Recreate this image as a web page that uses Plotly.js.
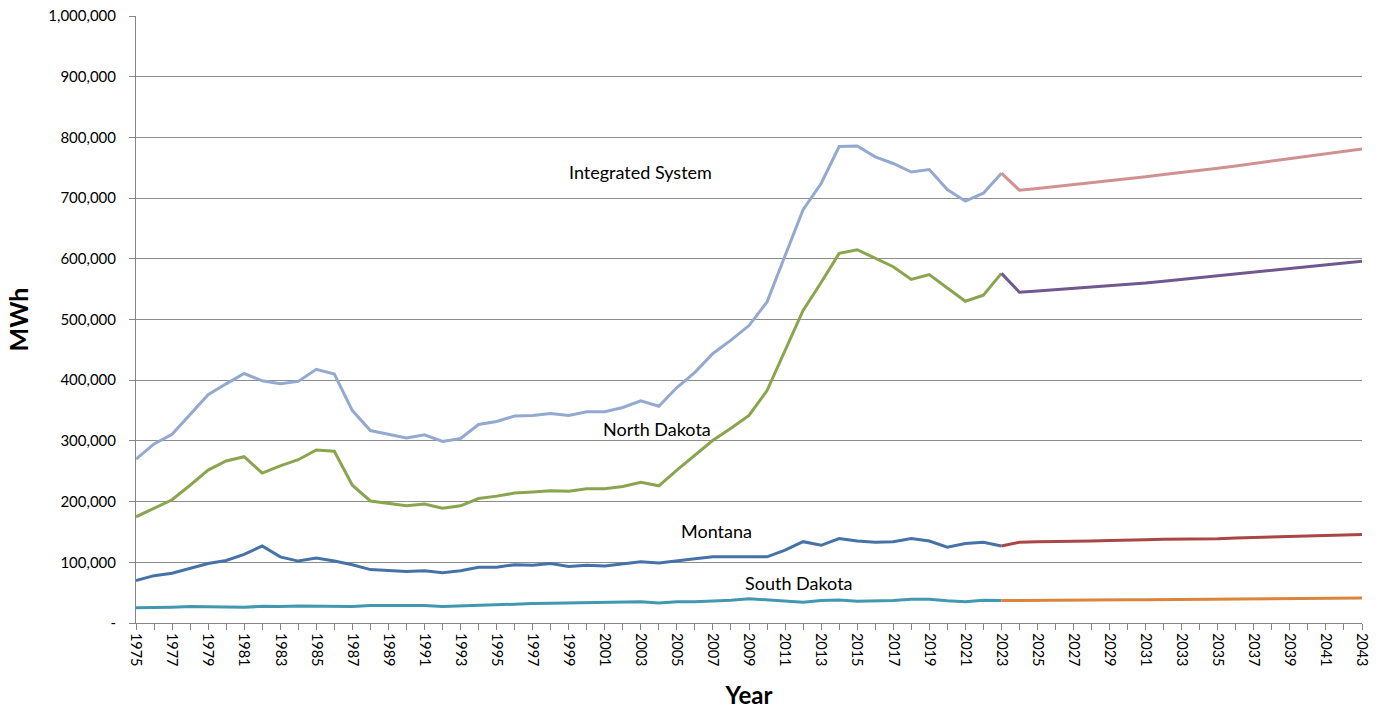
<!DOCTYPE html>
<html>
<head>
<meta charset="utf-8">
<script src="https://cdn.plot.ly/plotly-3.0.1.min.js"></script>
<style>html,body{margin:0;padding:0;background:#fff;}#chart{width:1382px;height:711px;}</style>
</head>
<body>
<div id="chart"></div>
<script>
// Historical years 1975-2023
const histYears = [1975,1976,1977,1978,1979,1980,1981,1982,1983,1984,1985,1986,1987,1988,1989,1990,1991,1992,1993,1994,1995,1996,1997,1998,1999,2000,2001,2002,2003,2004,2005,2006,2007,2008,2009,2010,2011,2012,2013,2014,2015,2016,2017,2018,2019,2020,2021,2022,2023];
// Forecast years 2023-2043
const fcstYears = [2023,2024,2025,2026,2027,2028,2029,2030,2031,2032,2033,2034,2035,2036,2037,2038,2039,2040,2041,2042,2043];

const integratedHist = [270000,295000,311000,344000,376000,394000,411000,399000,394000,398000,418000,410000,350000,317000,311000,305000,310000,299000,304000,327000,332000,341000,342000,345000,342000,348000,348000,355000,366000,357000,388000,413000,444000,466000,490000,529000,605000,681000,724000,785000,786000,768000,757000,743000,747000,714000,695000,708000,741000];
const integratedFcst = [741000,713000,716000,719000,722000,725000,729000,732000,735000,739000,742000,746000,749000,753000,757000,761000,765000,769000,773000,777000,781000];

const northDakotaHist = [175000,189000,203000,227000,252000,267000,274000,247000,259000,269000,285000,283000,227000,201000,197000,193000,196000,189000,193000,205000,209000,214000,216000,218000,217000,221000,221000,225000,232000,226000,252000,277000,301000,321000,342000,383000,450000,515000,561000,609000,615000,601000,587000,566000,574000,552000,530000,540000,576000];
const northDakotaFcst = [576000,545000,547000,549000,551000,554000,556000,558000,560000,563000,566000,568000,571000,574000,577000,580000,583000,586000,589000,592000,596000];

const montanaHist = [70000,78000,82000,90000,98000,103000,113000,127000,109000,102000,107000,102000,96000,88000,86000,85000,86000,83000,86000,92000,92000,96000,95000,98000,93000,95000,94000,97000,101000,99000,103000,106000,109000,109000,110000,109000,120000,134000,128000,139000,135000,133000,134000,139000,135000,125000,131000,133000,127000];
const montanaFcst = [127000,133000,134000,134000,135000,135000,136000,136000,137000,138000,138000,139000,139000,140000,141000,141000,142000,143000,144000,145000,146000];

const southDakotaHist = [25000,25000,26000,27000,27000,26000,26000,27500,27000,28000,27500,27000,27000,29000,29000,28000,29000,27000,28000,30000,31000,32000,32000,32600,33000,33000,34000,34000,35000,33000,35000,35000,36000,37500,40000,38000,36500,34000,37000,38000,36000,36000,37000,39000,39000,36500,35000,37500,37000];
const southDakotaFcst = [37000,37000,37200,37400,37600,37800,38000,38200,38400,38600,38800,39000,39200,39400,39600,39800,40000,40200,40400,40600,41000];

const yTickVals = [0,100000,200000,300000,400000,500000,600000,700000,800000,900000,1000000];
const yTickText = ['-','100,000','200,000','300,000','400,000','500,000','600,000','700,000','800,000','900,000','1,000,000'];

const seriesLabelText = ['Integrated System','North Dakota','Montana','South Dakota'];
const seriesLabelX = [2003.0, 2003.9, 2007.2, 2011.8];
const seriesLabelY = [743000, 320000, 151500, 66000];

const xTickVals = [];
const xTickText = [];
for (let yr = 1975; yr <= 2043; yr++) {
  xTickVals.push(yr);
  xTickText.push((yr - 1975) % 2 === 0 ? String(yr) : '');
}

function line(x, y, color) {
  return {x: x, y: y, type: 'scatter', mode: 'lines', line: {color: color, width: 3}, hoverinfo: 'skip', showlegend: false};
}

const traces = [
  line(histYears, southDakotaHist, '#4198AF'),
  line(fcstYears, southDakotaFcst, '#DB843D'),
  line(histYears, montanaHist, '#4572A7'),
  line(fcstYears, montanaFcst, '#AA4643'),
  line(histYears, northDakotaHist, '#89A54E'),
  line(fcstYears, northDakotaFcst, '#71588F'),
  line(histYears, integratedHist, '#93A9CF'),
  line(fcstYears, integratedFcst, '#D09291')
];

const layout = {
  width: 1382, height: 711,
  margin: {l: 136, r: 20, t: 16, b: 88},
  paper_bgcolor: '#fff', plot_bgcolor: '#fff',
  font: {family: 'Lato, "Liberation Sans", sans-serif', color: '#000', size: 15},
  showlegend: false,
  xaxis: {
    range: [1975, 2043],
    tickmode: 'array', tickvals: xTickVals, ticktext: xTickText,
    tickangle: 90,
    ticks: 'outside', ticklen: 6, tickcolor: '#868686', tickwidth: 1,
    showline: true, linecolor: '#868686', linewidth: 1,
    showgrid: false, zeroline: false,
    tickfont: {size: 14.5},
    title: {text: 'Year', font: {size: 24, family: 'Lato, sans-serif', weight: 'bold'}, standoff: 21}
  },
  yaxis: {
    range: [0, 1000000],
    tickmode: 'array', tickvals: yTickVals, ticktext: yTickText,
    ticks: 'outside', ticklen: 6, tickcolor: '#868686', tickwidth: 1,
    ticklabelstandoff: 10,
    showline: true, linecolor: '#868686', linewidth: 1,
    showgrid: true, gridcolor: '#8c8c8c', gridwidth: 1,
    zeroline: false,
    tickfont: {size: 15},
    title: {text: 'MWh', font: {size: 25, family: 'Lato, sans-serif', weight: 'bold'}, standoff: 12}
  },
  annotations: seriesLabelText.map(function(t, i){
    return {x: seriesLabelX[i], y: seriesLabelY[i], xref: 'x', yref: 'y', text: t, showarrow: false, font: {size: 18, family: 'Lato, sans-serif', color: '#000'}};
  })
};

Plotly.newPlot('chart', traces, layout, {displayModeBar: false, staticPlot: true});
</script>
</body>
</html>
